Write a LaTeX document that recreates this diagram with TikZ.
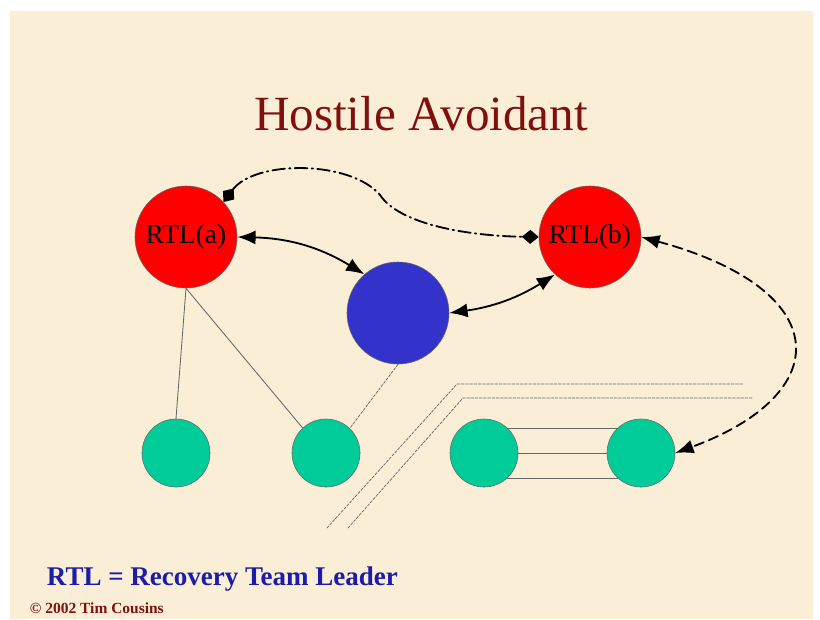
\documentclass[tikz,border=0pt]{standalone}
\usepackage{fontspec}
\setmainfont{Liberation Serif}
\usetikzlibrary{arrows.meta}
\definecolor{paper}{RGB}{250,239,214}
\definecolor{rtlred}{RGB}{255,0,0}
\definecolor{hubblue}{RGB}{51,51,204}
\definecolor{teamgreen}{RGB}{0,204,153}
\definecolor{titlered}{RGB}{128,16,16}
\definecolor{legendblue}{RGB}{28,28,168}
\begin{document}
\begin{tikzpicture}[x=0.025cm,y=-0.025cm,line cap=round,line join=round,
  blob/.style={circle,draw=black!60,line width=0.4pt,inner sep=0pt},
  big/.style={blob,minimum size=2.55cm,font=\fontsize{19.5}{22}\selectfont},
  small/.style={blob,minimum size=1.7cm,fill=teamgreen},
  link/.style={line width=0.6pt,draw=black!60},
  hint/.style={line width=0.5pt,draw=black!60,dash pattern=on 2pt off 1pt},
  both/.style={line width=1.3pt,{Latex[length=13pt,width=10pt]}-{Latex[length=13pt,width=10pt]}}]
  \useasboundingbox (0,0) rectangle (820,619);
  \fill[paper] (10,11) rectangle (813,619);
  \node[anchor=base,text=titlered,font=\fontsize{35}{40}\selectfont] (title) at (421,130) {Hostile Avoidant};
  \node[big,fill=rtlred] (ra) at (186,237) {RTL(a)};
  \node[big,fill=rtlred] (rb) at (590,237) {RTL(b)};
  \node[big,fill=hubblue] (hub) at (398,313) {};
  \node[small] (g1) at (176,453) {};
  \node[small] (g2) at (326,453) {};
  \node[small] (g3) at (484,453) {};
  \node[small] (g4) at (641,453) {};
  \draw[link] (ra.south) -- (g1.north);
  \draw[link] (ra.south) -- (g2.133);
  \draw[hint] (hub.south) -- (g2.46);
  \draw[link] (g3.47) -- (g4.133);
  \draw[link] (g3.east) -- (g4.west);
  \draw[link] (g3.-47) -- (g4.-133);
  \draw[hint] (327,528) -- (457,384) -- (743,384);
  \draw[hint] (348,528) -- (463,398) -- (752,398);
  \draw[both] (ra.east) to[bend left=15] (hub.131);
  \draw[both] (hub.east) to[bend right=12] (rb.227);
  \draw[line width=1.3pt,dash pattern=on 9pt off 3pt on 1pt off 3pt,
    {Diamond[length=12pt,width=10pt]}-{Diamond[length=12pt,width=10pt]}]
    (ra.43) .. controls (255,160) and (350,160) .. (380,195)
    .. controls (400,225) and (470,236) .. (rb.west);
  \draw[both,dash pattern=on 7pt off 4pt] (rb.east) .. controls (836,290) and (836,394) .. (g4.east);
  \node[anchor=base west,text=legendblue,font=\fontsize{19.2}{24}\selectfont\bfseries] (legend) at (42,585) {RTL = Recovery Team Leader};
  \node[anchor=base west,text=titlered,font=\fontsize{11}{13}\selectfont\bfseries] (owner) at (25,613) {© 2002 Tim Cousins};
\end{tikzpicture}
\end{document}
